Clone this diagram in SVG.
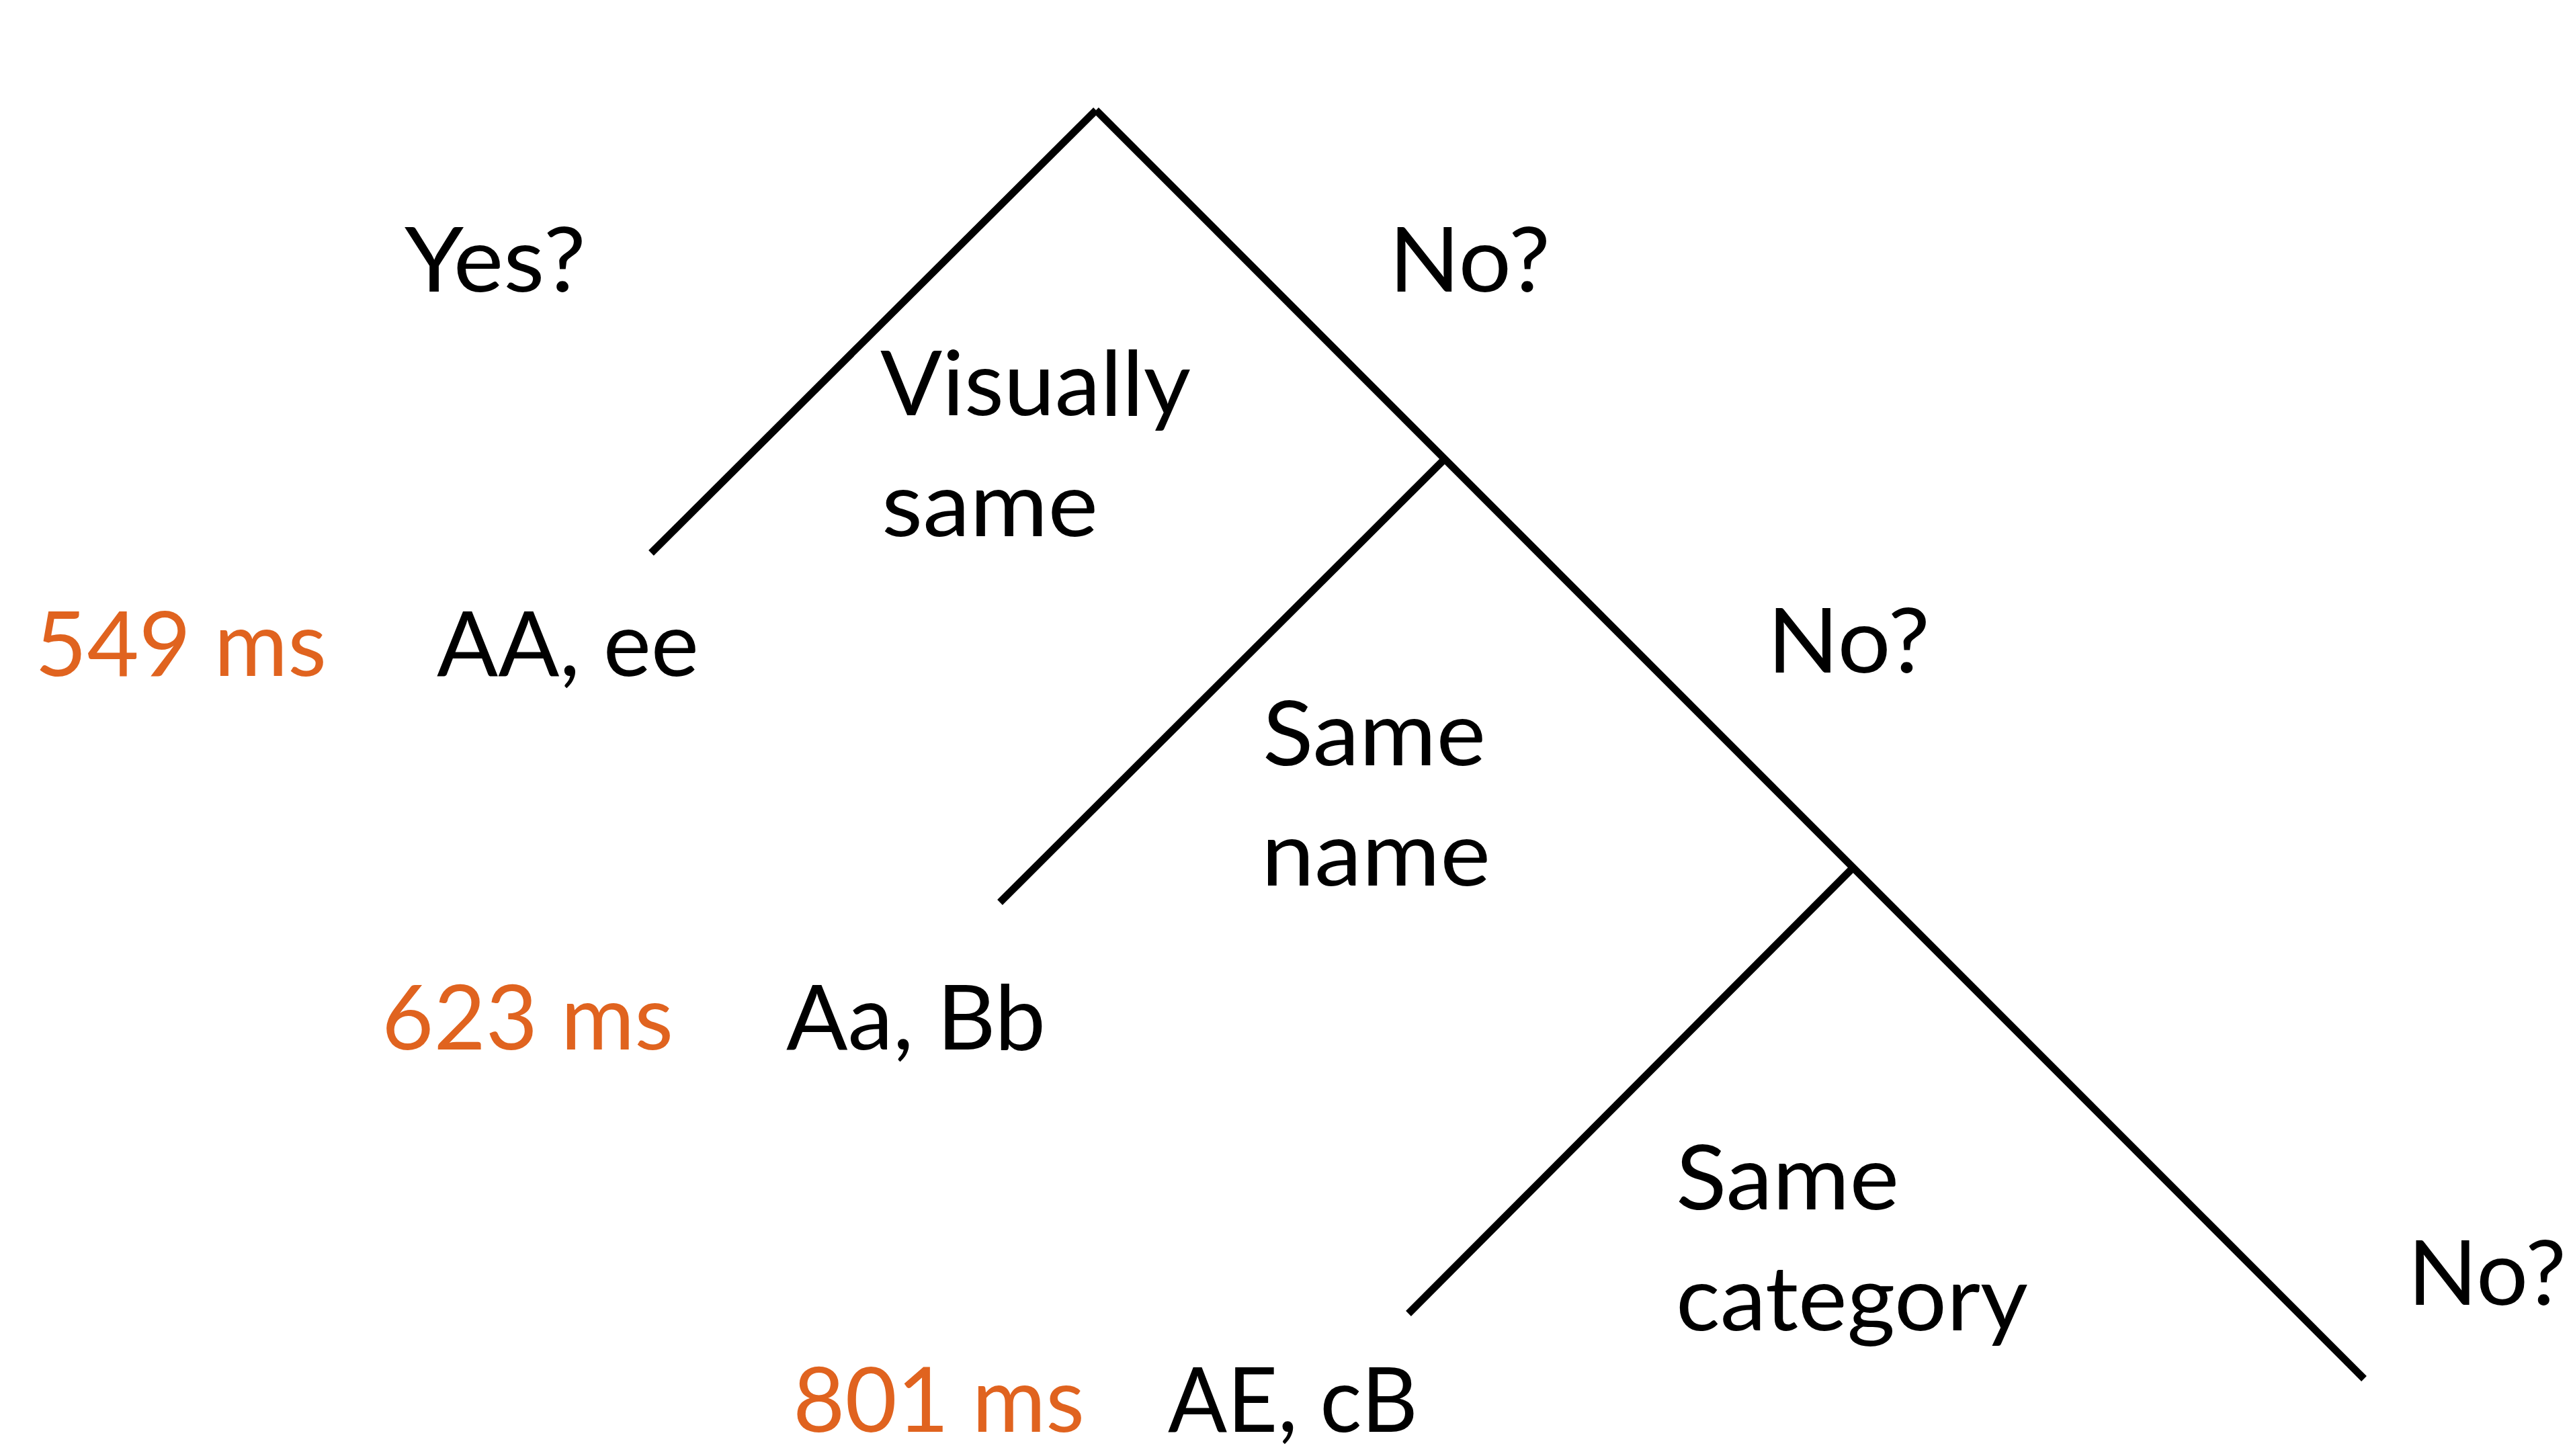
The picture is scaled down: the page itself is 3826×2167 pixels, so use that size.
<svg xmlns="http://www.w3.org/2000/svg" width="3826" height="2167" viewBox="0 0 3826 2167">
<style>
.t{font-family:Lato,"Open Sans","Noto Sans",sans-serif;font-size:134px;fill:#000}
.o{fill:#E0631F}
.ln{stroke:#000;stroke-width:11;fill:none;stroke-linecap:butt}
</style>
<rect width="3826" height="2167" fill="#fff"/>
<g id="connectors">
<line class="ln" x1="1631" y1="164" x2="969" y2="823"/>
<line class="ln" x1="1631" y1="164" x2="3518" y2="2052"/>
<line class="ln" x1="2150" y1="683" x2="1488" y2="1343"/>
<line class="ln" x1="2758" y1="1291" x2="2096" y2="1955"/>
</g>
<g id="yes-label"><text class="t" x="602" y="434" textLength="270" lengthAdjust="spacingAndGlyphs">Yes?</text></g>
<g id="no-label-1"><text class="t" x="2067" y="434" textLength="240" lengthAdjust="spacingAndGlyphs">No?</text></g>
<g id="visually-same"><text class="t" x="1310" y="618" textLength="462" lengthAdjust="spacingAndGlyphs">Visually</text><text class="t" x="1312" y="798" textLength="322" lengthAdjust="spacingAndGlyphs">same</text></g>
<g id="rt-549"><text class="t o" x="52" y="1006" textLength="434" lengthAdjust="spacingAndGlyphs">549 ms</text></g>
<g id="ex-1"><text class="t" x="650" y="1006" textLength="390" lengthAdjust="spacingAndGlyphs">AA, ee</text></g>
<g id="same-name"><text class="t" x="1879" y="1139" textLength="332" lengthAdjust="spacingAndGlyphs">Same</text><text class="t" x="1877" y="1318" textLength="341" lengthAdjust="spacingAndGlyphs">name</text></g>
<g id="no-label-2"><text class="t" x="2630" y="1001" textLength="242" lengthAdjust="spacingAndGlyphs">No?</text></g>
<g id="rt-623"><text class="t o" x="568" y="1562" textLength="434" lengthAdjust="spacingAndGlyphs">623 ms</text></g>
<g id="ex-2"><text class="t" x="1170" y="1562" textLength="386" lengthAdjust="spacingAndGlyphs">Aa, Bb</text></g>
<g id="same-category"><text class="t" x="2494" y="1800" textLength="332" lengthAdjust="spacingAndGlyphs">Same</text><text class="t" x="2494" y="1980" textLength="524" lengthAdjust="spacingAndGlyphs">category</text></g>
<g id="no-label-3"><text class="t" x="3583" y="1942" textLength="236" lengthAdjust="spacingAndGlyphs">No?</text></g>
<g id="rt-801"><text class="t o" x="1180" y="2131" textLength="434" lengthAdjust="spacingAndGlyphs">801 ms</text></g>
<g id="ex-3"><text class="t" x="1738" y="2131" textLength="372" lengthAdjust="spacingAndGlyphs">AE, cB</text></g>
</svg>
